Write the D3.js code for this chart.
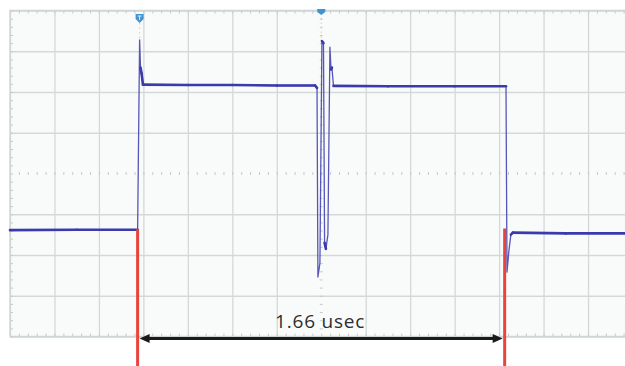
<!DOCTYPE html>
<html>
<head>
<meta charset="utf-8">
<script src="https://cdn.jsdelivr.net/npm/d3@7"></script>
<style>
  html, body { margin: 0; padding: 0; background: #ffffff; }
  #chart { width: 625px; height: 366px; }
</style>
</head>
<body>
<div id="chart"></div>
<script>
// Scope capture: time in ns (200 ns/div), amplitude in divisions
const timeTicks = [-1400, -1200, -1000, -800, -600, -400, -200, 0, 200, 400, 600, 800, 1000, 1200, 1400];
const voltTicks = [-4, -3, -2, -1, 0, 1, 2, 3, 4];

const traceTime = [-1400, -1100, -826, -817, -813, -808, -802, -600, -400, -200, -28, -19, -15, -6, 3, 10, 15, 21, 30, 39, 44, 48, 55, 300, 600, 831, 835.5, 844, 853, 862, 1100, 1400];
const traceVolt = [-1.39, -1.38, -1.38, 3.28, 2.6, 2.45, 2.18, 2.17, 2.17, 2.16, 2.16, 2.1, -2.54, -2.2, 3.25, 3.2, -1.7, -1.85, -1.5, 3.1, 2.55, 2.6, 2.15, 2.14, 2.14, 2.14, -2.42, -1.9, -1.5, -1.45, -1.47, -1.47];

const cursorTimes = [-826, 825];
const cursorLevels = [-1.37, -1.35];
const triggerTimes = [-817, 0];
const measureLabel = "1.66 usec";

function renderChart() {
    d3.select("#chart svg").remove();

    const W = 625, H = 366;
    const svg = d3.select("#chart").append("svg")
        .attr("width", W)
        .attr("height", H);

    const x = d3.scaleLinear().domain([-1400, 1400]).range([10, 632.5]);
    const y = d3.scaleLinear().domain([-4, 4]).range([336.5, 10.5]);

    // plot background
    svg.append("rect")
        .attr("x", x(-1400)).attr("y", y(4))
        .attr("width", x(1400) - x(-1400)).attr("height", y(-4) - y(4))
        .attr("fill", "#f9fbfa");

    const gridColor = "#d3d9d8";

    // major grid
    const gx = svg.append("g")
        .attr("transform", `translate(0,${y(-4)})`)
        .call(d3.axisBottom(x).tickValues(timeTicks).tickSize(-(y(-4) - y(4))).tickFormat(""));
    const gy = svg.append("g")
        .attr("transform", `translate(${x(-1400)},0)`)
        .call(d3.axisLeft(y).tickValues(voltTicks).tickSize(-(x(1400) - x(-1400))).tickFormat(""));
    [gx, gy].forEach(g => {
        g.select(".domain").remove();
        g.selectAll("line").attr("stroke", gridColor).attr("stroke-width", 1.3);
    });
    // centre lines are drawn dotted over the grid
    gx.selectAll(".tick").filter(d => d === 0).select("line").attr("stroke", "none");
    gy.selectAll(".tick").filter(d => d === 0).select("line").attr("stroke", "none");

    const minorT = d3.range(-1400, 1401, 40);
    const minorV = d3.range(-4, 4.001, 0.2);
    const tickColor = "#c4cac9";

    function minorAxis(axis, transform, size) {
        const g = svg.append("g")
            .attr("transform", transform)
            .call(axis.tickSize(size).tickFormat(""));
        g.select(".domain").remove();
        g.selectAll("line").attr("stroke", tickColor).attr("stroke-width", 1);
        return g;
    }

    // minor ticks on border and centre lines
    minorAxis(d3.axisRight(y).tickValues(minorV), `translate(${x(-1400)},0)`, 3);
    minorAxis(d3.axisBottom(x).tickValues(minorT), `translate(0,${y(4)})`, 3);
    minorAxis(d3.axisTop(x).tickValues(minorT), `translate(0,${y(-4)})`, 3);
    minorAxis(d3.axisBottom(x).tickValues(minorT), `translate(0,${y(0) - 1.5})`, 3);
    minorAxis(d3.axisRight(y).tickValues(minorV), `translate(${x(0) - 1.5},0)`, 3);

    // left / top / bottom frame
    svg.append("path")
        .attr("d", `M${x(1400)},${y(4)}H${x(-1400)}V${y(-4)}H${x(1400)}`)
        .attr("fill", "none")
        .attr("stroke", "#cfd5d4")
        .attr("stroke-width", 1.3);

    // trigger markers
    triggerTimes.forEach((t, i) => {
        const cx = x(t);
        const top = i === 0 ? 14 : 9;
        svg.append("line")
            .attr("x1", cx).attr("x2", cx)
            .attr("y1", top + 9).attr("y2", top + 30)
            .attr("stroke", "#efc98a")
            .attr("stroke-width", 1)
            .attr("stroke-dasharray", "1.5,3");
        svg.append("path")
            .attr("d", i === 0
                ? `M${cx - 4},${top}h8v5l-4,4l-4,-4z`
                : `M${cx - 4},${top}h8v3l-4,3l-4,-3z`)
            .attr("fill", "#3f93cf");
        if (i === 0) {
            svg.append("path")
                .attr("d", `M${cx - 2},${top + 2}h4M${cx},${top + 2}v4`)
                .attr("stroke", "#dbeefa")
                .attr("stroke-width", 1);
        }
    });

    // waveform
    const trace = traceTime.map((t, i) => ({ t: t, v: traceVolt[i] }));
    const line = d3.line().x(d => x(d.t)).y(d => y(d.v));

    svg.append("path")
        .datum(trace)
        .attr("fill", "none")
        .attr("stroke", "#5656b8")
        .attr("stroke-width", 1.3)
        .attr("stroke-linejoin", "round")
        .attr("d", line);

    // settled parts of the trace look heavier on the scope
    const flat = d3.pairs(trace).filter(([a, b]) => Math.abs(b.v - a.v) < 0.3);
    svg.append("g").selectAll("line")
        .data(flat)
        .join("line")
        .attr("x1", d => x(d[0].t)).attr("y1", d => y(d[0].v))
        .attr("x2", d => x(d[1].t)).attr("y2", d => y(d[1].v))
        .attr("stroke", "#3a3aad")
        .attr("stroke-width", 2.6)
        .attr("stroke-linecap", "round");

    // cursors
    svg.append("g").selectAll("line")
        .data(cursorTimes)
        .join("line")
        .attr("x1", d => x(d)).attr("x2", d => x(d))
        .attr("y1", (d, i) => y(cursorLevels[i]))
        .attr("y2", H)
        .attr("stroke", "#e8433d")
        .attr("stroke-width", 3);

    // measurement arrow
    const ay = 338.5;
    const ax1 = x(cursorTimes[0]) + 2, ax2 = x(cursorTimes[1]) - 2;
    svg.append("line")
        .attr("x1", ax1 + 8).attr("x2", ax2 - 8)
        .attr("y1", ay).attr("y2", ay)
        .attr("stroke", "#1a1a1a")
        .attr("stroke-width", 3);
    svg.append("path")
        .attr("d", `M${ax1},${ay}l10,-4.5v9z M${ax2},${ay}l-10,-4.5v9z`)
        .attr("fill", "#1a1a1a");

    svg.append("text")
        .attr("x", (x(cursorTimes[0]) + x(cursorTimes[1])) / 2 - 1)
        .attr("y", 328)
        .attr("text-anchor", "middle")
        .style("font-family", "'Open Sans', sans-serif")
        .style("font-size", "19px")
        .style("letter-spacing", "0.8px")
        .attr("fill", "#2e2e2e")
        .text(measureLabel);
}

renderChart();
</script>
</body>
</html>
